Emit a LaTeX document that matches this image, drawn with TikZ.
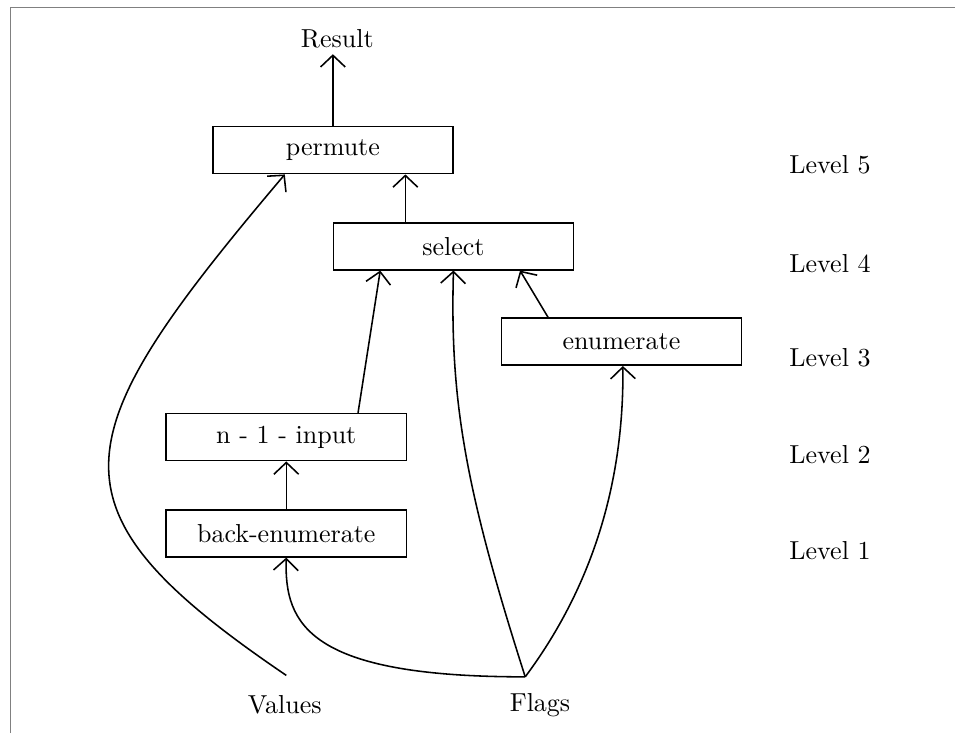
\documentclass[tikz,border=0pt]{standalone}
\usepackage{tikz}
\usetikzlibrary{arrows.meta,positioning,calc}
\tikzset{
  >={Straight Barb[length=4.5pt,width=9.5pt]},
  box/.style={draw, semithick, rectangle, minimum height=6.35mm, minimum width=32.45mm, inner sep=0pt, align=center},
  lbl/.style={inner sep=2pt},
  conn/.style={->, semithick},
}

\begin{document}
\begin{tikzpicture}
  \useasboundingbox (0,0) rectangle (12.91,9.91);
  \draw[gray, line width=0.6pt] (0.14,0) |- (12.91,9.81);

  % boxes
  \node[box] (permute) at (4.50,7.88) {permute};
  \node[box] (select) at (6.13,6.58) {select};
  \node[box] (enum) at (8.40,5.29) {enumerate};
  \node[box] (input) at (3.87,4.00) {n - 1 - input};
  \node[box] (back) at (3.87,2.70) {back-enumerate};

  % inputs and output
  \node[lbl] (result) at (4.56,9.38) {Result};
  \node[lbl] (values) at (3.85,0.38) {Values};
  \node[lbl] (flags) at (7.30,0.38) {Flags};
  \coordinate (vfork) at (3.87,0.78);
  \coordinate (ffork) at (7.10,0.76);

  % levels
  \node[lbl] (lev5) at (11.22,7.68) {Level 5};
  \node[lbl] (lev4) at (11.22,6.35) {Level 4};
  \node[lbl] (lev3) at (11.22,5.08) {Level 3};
  \node[lbl] (lev2) at (11.22,3.76) {Level 2};
  \node[lbl] (lev1) at (11.22,2.47) {Level 1};

  % straight connectors
  \draw[conn] (permute.north) -- (permute.north |- result.south);
  \draw[conn] ([xshift=-6.5mm]select.north) -- ([xshift=-6.5mm]select.north |- permute.south);
  \draw[conn] ([xshift=9.7mm]input.north) -- ([xshift=-9.9mm]select.south);
  \draw[conn] ([xshift=-9.9mm]enum.north) -- ([xshift=9mm]select.south);
  \draw[conn] (back.north) -- (input.south);

  % curved connectors
  \draw[conn] (vfork) .. controls (0.54,3.04) and (0.81,3.96) .. ([xshift=-6.5mm]permute.south);
  \draw[conn] (ffork) .. controls (4.19,0.76) and (3.84,1.46) .. (back.south);
  \draw[conn] (ffork) .. controls (6.29,3.29) and (6.08,4.50) .. (select.south);
  \draw[conn] (ffork) .. controls (7.77,1.66) and (8.44,3.01) .. ([xshift=0.2mm]enum.south);
\end{tikzpicture}
\end{document}
